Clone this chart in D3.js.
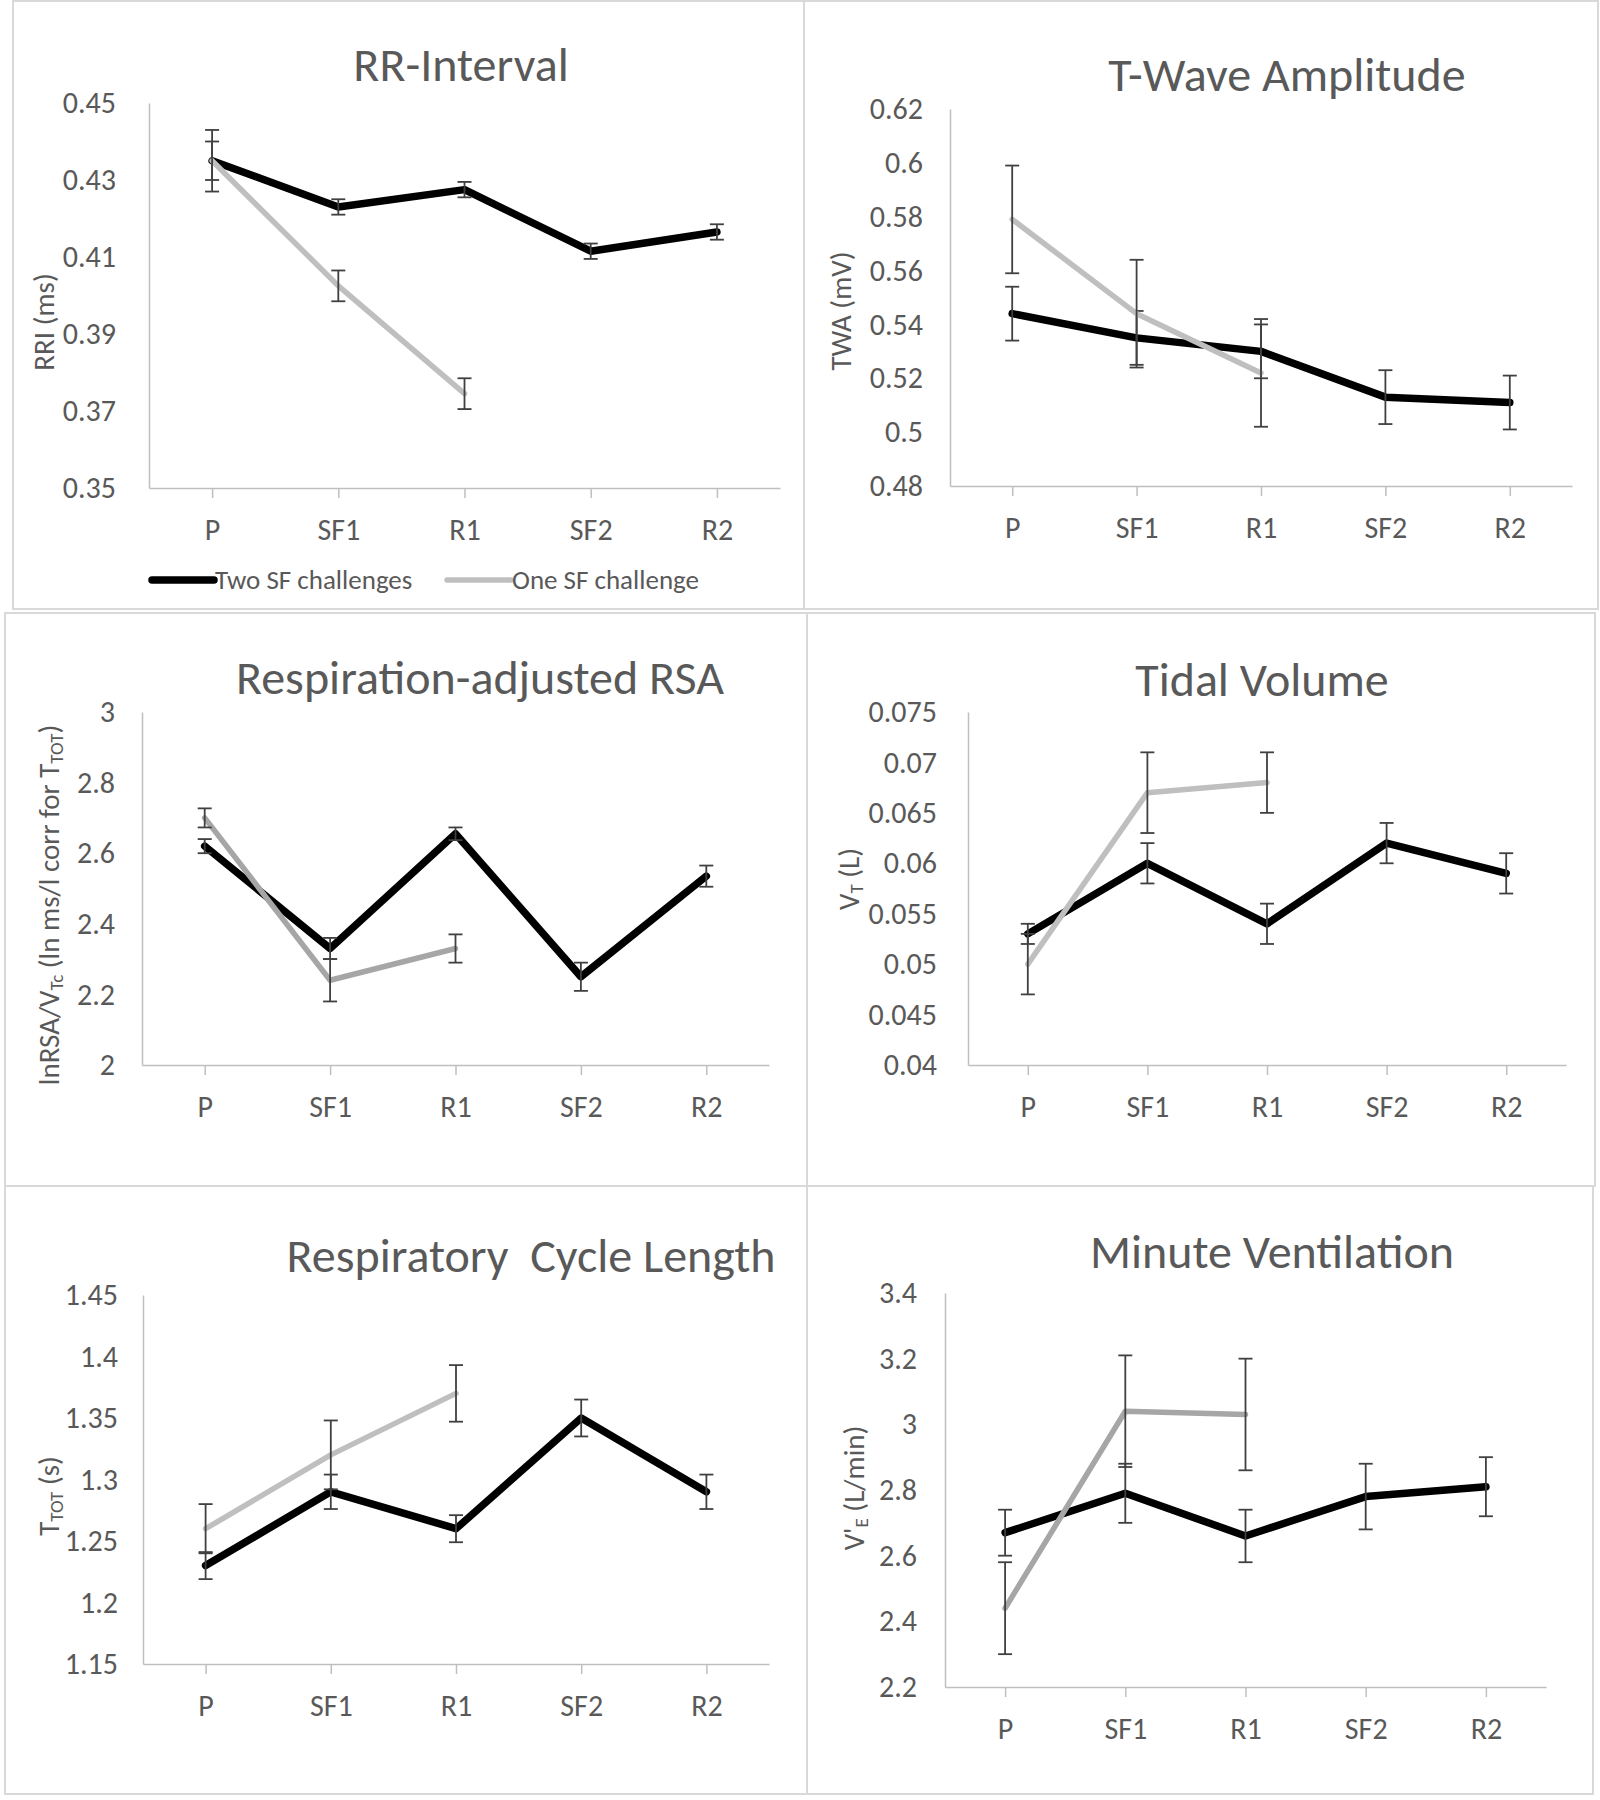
<!DOCTYPE html>
<html>
<head>
  <meta charset="utf-8">
  <script src="https://d3js.org/d3.v7.min.js"></script>
  <style>
    body { margin: 0; background: #fff; }
    svg text { font-family: Carlito, "Liberation Sans Narrow", "Open Sans", sans-serif; fill: #595959; }
  </style>
</head>
<body>
<script>
  "use strict";

  var categories = ["P", "SF1", "R1", "SF2", "R2"];
  var seriesNames = ["Two SF challenges", "One SF challenge"];

  // RR-Interval
  var rriTwo = [0.435, 0.423, 0.4275, 0.4115, 0.4165];
  var rriTwoErr = [0.005, 0.002, 0.002, 0.002, 0.002];
  var rriOne = [0.435, 0.4025, 0.3745];
  var rriOneErr = [0.008, 0.004, 0.004];
  var rriTicks = [0.35, 0.37, 0.39, 0.41, 0.43, 0.45];

  // T-wave amplitude
  var twaTwo = [0.544, 0.535, 0.530, 0.513, 0.511];
  var twaTwoErr = [0.01, 0.01, 0.01, 0.01, 0.01];
  var twaOne = [0.579, 0.544, 0.522];
  var twaOneErr = [0.02, 0.02, 0.02];
  var twaTicks = [0.48, 0.5, 0.52, 0.54, 0.56, 0.58, 0.6, 0.62];

  // respiration-adjusted RSA
  var rsaTwo = [2.62, 2.33, 2.655, 2.25, 2.535];
  var rsaTwoErr = [0.02, 0.03, 0.018, 0.04, 0.03];
  var rsaOne = [2.70, 2.24, 2.33];
  var rsaOneErr = [0.027, 0.06, 0.04];
  var rsaTicks = [2, 2.2, 2.4, 2.6, 2.8, 3];

  // tidal volume
  var tvTwo = [0.053, 0.060, 0.054, 0.062, 0.059];
  var tvTwoErr = [0.001, 0.002, 0.002, 0.002, 0.002];
  var tvOne = [0.050, 0.067, 0.068];
  var tvOneErr = [0.003, 0.004, 0.003];
  var tvTicks = [0.04, 0.045, 0.05, 0.055, 0.06, 0.065, 0.07, 0.075];

  // respiratory cycle length
  var ttotTwo = [1.23, 1.29, 1.26, 1.35, 1.29];
  var ttotTwoErr = [0.011, 0.014, 0.011, 0.015, 0.014];
  var ttotOne = [1.26, 1.32, 1.37];
  var ttotOneErr = [0.02, 0.028, 0.023];
  var ttotTicks = [1.15, 1.2, 1.25, 1.3, 1.35, 1.4, 1.45];

  // minute ventilation
  var veTwo = [2.67, 2.79, 2.66, 2.78, 2.81];
  var veTwoErr = [0.07, 0.09, 0.08, 0.10, 0.09];
  var veOne = [2.44, 3.04, 3.03];
  var veOneErr = [0.14, 0.17, 0.17];
  var veTicks = [2.2, 2.4, 2.6, 2.8, 3, 3.2, 3.4];

  var W = 1600, H = 1800;
  var svg = d3.select("body").append("svg")
      .attr("width", W)
      .attr("height", H);

  // layout of each panel (box = border, plot = axes area)
  var panels = [
    { title: "RR-Interval", tx: 461, ty: 66,
      ylab: [["RRI (ms)"]], lx: 44, ly: 322,
      box: [13, 1, 804, 609], plot: [149, 780, 103, 488], tickGap: 33,
      two: rriTwo, twoErr: rriTwoErr, one: rriOne, oneErr: rriOneErr, ticks: rriTicks,
      gray: "#bfbfbf", legend: true },
    { title: "T-Wave Amplitude", tx: 1287, ty: 76,
      ylab: [["TWA (mV)"]], lx: 841, ly: 311,
      box: [804, 1, 1598, 609], plot: [950, 1572, 109, 486], tickGap: 27,
      two: twaTwo, twoErr: twaTwoErr, one: twaOne, oneErr: twaOneErr, ticks: twaTicks,
      gray: "#bfbfbf" },
    { title: "Respiration-adjusted RSA", tx: 480, ty: 679,
      ylab: [["lnRSA/V"], ["Tc", 1], [" (ln ms/l corr for T"], ["TOT", 1], [")"]], lx: 49, ly: 905,
      box: [5, 613, 807, 1186], plot: [142, 769, 712, 1065], tickGap: 27,
      two: rsaTwo, twoErr: rsaTwoErr, one: rsaOne, oneErr: rsaOneErr, ticks: rsaTicks,
      gray: "#a6a6a6" },
    { title: "Tidal Volume", tx: 1262, ty: 681,
      ylab: [["V"], ["T", 1], [" (L)"]], lx: 849, ly: 879,
      box: [807, 613, 1595, 1186], plot: [968, 1566, 712, 1065], tickGap: 31,
      two: tvTwo, twoErr: tvTwoErr, one: tvOne, oneErr: tvOneErr, ticks: tvTicks,
      gray: "#bfbfbf" },
    { title: "Respiratory  Cycle Length", tx: 531, ty: 1257,
      ylab: [["T"], ["TOT", 1], [" (s)"]], lx: 49, ly: 1496,
      box: [5, 1186, 807, 1794], plot: [143, 769, 1295, 1664], tickGap: 25,
      two: ttotTwo, twoErr: ttotTwoErr, one: ttotOne, oneErr: ttotOneErr, ticks: ttotTicks,
      gray: "#bfbfbf" },
    { title: "Minute Ventilation", tx: 1272, ty: 1253,
      ylab: [["V'"], ["E", 1], [" (L/min)"]], lx: 854, ly: 1488,
      box: [807, 1186, 1593, 1794], plot: [945, 1546, 1293, 1687], tickGap: 28,
      two: veTwo, twoErr: veTwoErr, one: veOne, oneErr: veOneErr, ticks: veTicks,
      gray: "#a6a6a6" }
  ];

  var fmt = function (v) { return String(+v.toFixed(4)); };

  panels.forEach(function (p) {
    var g = svg.append("g");

    // panel border
    g.append("rect")
      .attr("x", p.box[0]).attr("y", p.box[1])
      .attr("width", p.box[2] - p.box[0]).attr("height", p.box[3] - p.box[1])
      .attr("fill", "none").attr("stroke", "#d9d9d9").attr("stroke-width", 2);

    var x = d3.scalePoint().domain(categories).range([p.plot[0], p.plot[1]]).padding(0.5);
    var y = d3.scaleLinear()
      .domain([p.ticks[0], p.ticks[p.ticks.length - 1]])
      .range([p.plot[3], p.plot[2]]);

    // y axis
    var ya = g.append("g")
      .attr("transform", "translate(" + p.plot[0] + ",0)")
      .call(d3.axisLeft(y).tickValues(p.ticks).tickFormat(fmt).tickSize(0).tickPadding(p.tickGap));
    ya.select(".domain").attr("stroke", "#bfbfbf").attr("stroke-width", 1.5);
    ya.selectAll("text").style("font-size", "30px");

    // x axis
    var xa = g.append("g")
      .attr("transform", "translate(0," + p.plot[3] + ")")
      .call(d3.axisBottom(x).tickSize(10).tickPadding(21).tickSizeOuter(0));
    xa.select(".domain").attr("stroke", "#bfbfbf").attr("stroke-width", 1.5);
    xa.selectAll(".tick line").attr("stroke", "#bfbfbf").attr("stroke-width", 1.5);
    xa.selectAll("text").style("font-size", "30px");

    // title
    g.append("text")
      .attr("x", p.tx).attr("y", p.ty + 15)
      .attr("text-anchor", "middle")
      .style("font-size", "48px")
      .style("white-space", "pre")
      .text(p.title);

    // y axis title with subscripts
    var yt = g.append("text")
      .attr("transform", "translate(" + (p.lx + 10) + "," + p.ly + ") rotate(-90)")
      .attr("text-anchor", "middle")
      .style("font-size", "29px");
    p.ylab.forEach(function (part) {
      var t = yt.append("tspan").text(part[0]);
      if (part[1]) t.style("font-size", "19px").attr("baseline-shift", "-20%");
    });

    var line = d3.line()
      .x(function (d, i) { return x(categories[i]); })
      .y(function (d) { return y(d); });

    function drawSeries(vals, errs, color, width) {
      g.append("path")
        .datum(vals)
        .attr("d", line)
        .attr("fill", "none")
        .attr("stroke", color)
        .attr("stroke-width", width)
        .attr("stroke-linejoin", "round")
        .attr("stroke-linecap", "round");

      var eb = g.append("g").attr("stroke", "#404040").attr("stroke-width", 1.8);
      vals.forEach(function (v, i) {
        var cx = x(categories[i]);
        var hi = y(v + errs[i]), lo = y(v - errs[i]);
        eb.append("line").attr("x1", cx).attr("x2", cx).attr("y1", hi).attr("y2", lo);
        eb.append("line").attr("x1", cx - 7).attr("x2", cx + 7).attr("y1", hi).attr("y2", hi);
        eb.append("line").attr("x1", cx - 7).attr("x2", cx + 7).attr("y1", lo).attr("y2", lo);
      });
    }

    drawSeries(p.two, p.twoErr, "#000000", 7.5);
    drawSeries(p.one, p.oneErr, p.gray, 5.5);

    if (p.legend) {
      var lg = g.append("g");
      var items = [
        { name: seriesNames[0], color: "#000000", w: 7.5, x0: 152, x1: 214 },
        { name: seriesNames[1], color: p.gray, w: 5.5, x0: 447, x1: 511 }
      ];
      items.forEach(function (it) {
        lg.append("line")
          .attr("x1", it.x0).attr("x2", it.x1)
          .attr("y1", 580).attr("y2", 580)
          .attr("stroke", it.color).attr("stroke-width", it.w)
          .attr("stroke-linecap", "round");
        lg.append("text")
          .attr("x", it.x1 + 1).attr("y", 589)
          .style("font-size", "27px")
          .text(it.name);
      });
    }
  });
</script>
</body>
</html>
